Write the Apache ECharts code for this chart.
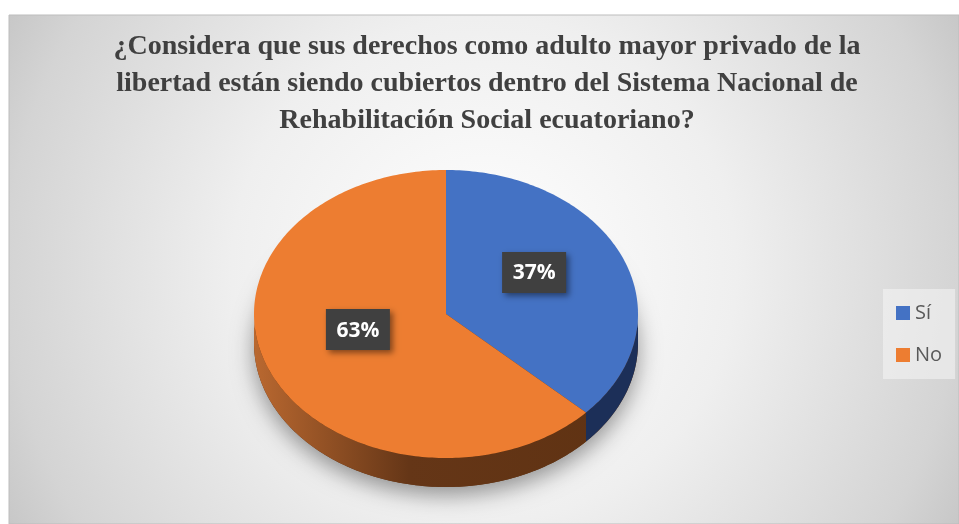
<!DOCTYPE html>
<html><head><meta charset="utf-8">
<script src="https://cdn.jsdelivr.net/npm/echarts@6/dist/echarts.min.js"></script>
<style>html,body{margin:0;padding:0;background:#fff}#c{width:959px;height:524px}</style>
</head><body><div id="c"></div>
<script>
// ---- data ----
const titleLines = [
  '¿Considera que sus derechos como adulto mayor privado de la',
  'libertad están siendo cubiertos dentro del Sistema Nacional de',
  'Rehabilitación Social ecuatoriano?'
];
const categories = ['Sí', 'No'];
const values = [37, 63];
const labelTexts = ['37%', '63%'];

// ---- styles ----
const colors = ['#4472c4', '#ed7d31'];
const CX = 446, CY = 314, RX = 192, RY = 144, DEPTH = 29;
const LABEL_R = 0.5, LABEL_DY = -13;
const deg = Math.PI / 180;
const total = values.reduce((a, b) => a + b, 0);
const starts = [];
values.reduce((acc, v, i) => { starts[i] = acc; return acc + v / total * 360; }, 0);

const sideFills = [
  '#1c2f58',
  new echarts.graphic.LinearGradient(255, 0, 640, 0, [
    { offset: 0, color: '#b96830' },
    { offset: 0.4, color: '#653617' },
    { offset: 1, color: '#5f3212' }
  ], true)
];

function pt(t, cy) { return [CX + RX * Math.sin(t * deg), cy - RY * Math.cos(t * deg)]; }
function arc(a0, a1, cy) {
  const n = Math.max(2, Math.ceil(Math.abs(a1 - a0)));
  const out = [];
  for (let k = 0; k <= n; k++) out.push(pt(a0 + (a1 - a0) * k / n, cy));
  return out;
}

function makeRender(i) {
  return function (params, api) {
    const a0 = starts[i];
    const a1 = a0 + api.value(0) / total * 360;
    const children = [];
    if (i === 0) {
      children.push({
        type: 'polygon', z2: 0,
        shape: { points: arc(0, 360, CY + DEPTH) },
        style: { fill: '#5f3212', shadowBlur: 22, shadowOffsetY: 8, shadowColor: 'rgba(0,0,0,0.4)' }
      });
    }
    const s0 = Math.max(a0, 90), s1 = Math.min(a1, 270);
    if (s1 > s0) {
      children.push({
        type: 'polygon', z2: 1,
        shape: { points: arc(s0, s1, CY).concat(arc(s1, s0, CY + DEPTH)) },
        style: { fill: sideFills[i] }
      });
    }
    children.push({
      type: 'polygon', z2: 2,
      shape: { points: [[CX, CY]].concat(arc(a0, a1, CY)) },
      style: { fill: colors[i] }
    });
    const mid = (a0 + a1) / 2;
    const px = CX + LABEL_R * RX * Math.sin(mid * deg);
    const py = CY - LABEL_R * RY * Math.cos(mid * deg) + LABEL_DY;
    children.push({
      type: 'rect', z2: 3,
      shape: { x: px - 32, y: py - 20.5, width: 64, height: 41 },
      style: { fill: '#404040', shadowBlur: 6, shadowOffsetX: 3, shadowOffsetY: 3, shadowColor: 'rgba(0,0,0,0.45)' }
    });
    children.push({
      type: 'text', z2: 4,
      style: { text: labelTexts[i], x: px, y: py + 1, align: 'center', verticalAlign: 'middle',
        fill: '#ffffff', font: 'bold 21px "Open Sans"' }
    });
    return { type: 'group', children: children };
  };
}

const chart = echarts.init(document.getElementById('c'));
chart.setOption({
  animation: false,
  color: colors,
  graphic: [{
    type: 'rect', z: -10,
    shape: { x: 9, y: 15, width: 950, height: 509 },
    style: {
      fill: new echarts.graphic.RadialGradient(0.5, 0.5, 1.1, [
        { offset: 0, color: '#ffffff' },
        { offset: 0.45, color: '#efefef' },
        { offset: 0.85, color: '#d4d4d4' },
        { offset: 1, color: '#c3c3c3' }
      ]),
      stroke: '#bdbdbd', lineWidth: 1
    }
  }],
  title: {
    text: titleLines.join('\n'),
    left: 487, top: 28, textAlign: 'center',
    padding: 0,
    textStyle: { fontFamily: 'Liberation Serif', fontWeight: 'bold', fontSize: 28, lineHeight: 37, color: '#404040' }
  },
  legend: {
    data: categories,
    orient: 'vertical',
    left: 883, top: 289,
    padding: [12, 13, 12, 13],
    backgroundColor: 'rgba(245,245,245,0.55)',
    icon: 'rect', itemWidth: 14, itemHeight: 14, itemGap: 18,
    textStyle: { fontFamily: 'Open Sans', fontSize: 20, lineHeight: 24, color: '#595959' }
  },
  series: categories.map((c, i) => ({
    type: 'custom', name: c, coordinateSystem: 'none',
    itemStyle: { color: colors[i] },
    data: [[values[i]]],
    renderItem: makeRender(i)
  }))
});
</script></body></html>
